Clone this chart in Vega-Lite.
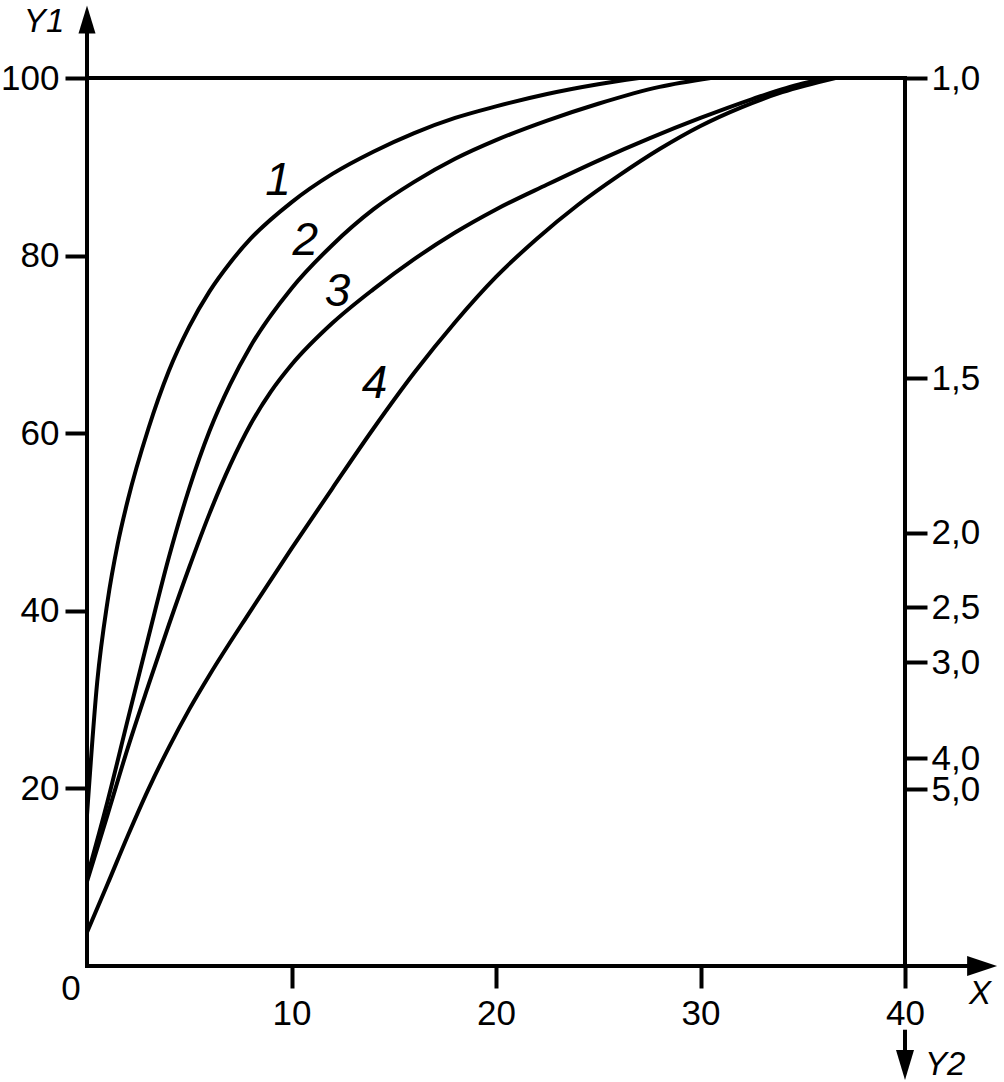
{
  "$schema": "https://vega.github.io/schema/vega-lite/v6.json",
  "width": 818,
  "height": 888,
  "autosize": {"type": "none"},
  "padding": {"left": 87, "top": 78, "right": 99, "bottom": 116},
  "background": "white",
  "config": {
    "view": {"stroke": null},
    "axis": {
      "domain": false,
      "grid": false,
      "tickColor": "black",
      "tickWidth": 4,
      "tickSize": 22,
      "labelFont": "Liberation Sans",
      "labelFontSize": 35,
      "labelColor": "black",
      "labelFlush": false,
      "labelOverlap": false
    }
  },
  "datasets": {
    "curves": [
      {"curve": "1", "x": 0, "y": 17},
      {"curve": "1", "x": 0.5, "y": 32},
      {"curve": "1", "x": 1, "y": 41},
      {"curve": "1", "x": 1.5, "y": 47.5},
      {"curve": "1", "x": 2, "y": 52.5},
      {"curve": "1", "x": 3, "y": 60.5},
      {"curve": "1", "x": 4, "y": 67},
      {"curve": "1", "x": 5, "y": 72},
      {"curve": "1", "x": 6, "y": 76},
      {"curve": "1", "x": 7, "y": 79.2},
      {"curve": "1", "x": 8, "y": 81.9},
      {"curve": "1", "x": 10, "y": 86},
      {"curve": "1", "x": 12, "y": 89.2},
      {"curve": "1", "x": 14, "y": 91.7},
      {"curve": "1", "x": 16, "y": 93.8},
      {"curve": "1", "x": 18, "y": 95.5},
      {"curve": "1", "x": 20, "y": 96.8},
      {"curve": "1", "x": 22.5, "y": 98.2},
      {"curve": "1", "x": 25, "y": 99.3},
      {"curve": "1", "x": 27, "y": 100},
      {"curve": "2", "x": 0, "y": 10},
      {"curve": "2", "x": 1, "y": 18.5},
      {"curve": "2", "x": 2, "y": 27.8},
      {"curve": "2", "x": 3, "y": 37},
      {"curve": "2", "x": 4, "y": 46},
      {"curve": "2", "x": 5, "y": 53.8},
      {"curve": "2", "x": 6, "y": 60.3},
      {"curve": "2", "x": 7, "y": 65.5},
      {"curve": "2", "x": 8, "y": 69.8},
      {"curve": "2", "x": 10, "y": 76.3},
      {"curve": "2", "x": 12, "y": 81.2},
      {"curve": "2", "x": 14, "y": 85.2},
      {"curve": "2", "x": 16, "y": 88.3},
      {"curve": "2", "x": 18, "y": 90.9},
      {"curve": "2", "x": 20, "y": 93},
      {"curve": "2", "x": 22.5, "y": 95.2},
      {"curve": "2", "x": 25, "y": 97.1},
      {"curve": "2", "x": 28, "y": 99},
      {"curve": "2", "x": 30.5, "y": 100},
      {"curve": "3", "x": 0, "y": 9.5},
      {"curve": "3", "x": 1, "y": 17},
      {"curve": "3", "x": 2, "y": 24.6},
      {"curve": "3", "x": 3, "y": 31.6},
      {"curve": "3", "x": 4, "y": 38.4},
      {"curve": "3", "x": 5, "y": 44.9},
      {"curve": "3", "x": 6, "y": 51},
      {"curve": "3", "x": 7, "y": 56.4},
      {"curve": "3", "x": 8, "y": 61},
      {"curve": "3", "x": 9, "y": 64.7},
      {"curve": "3", "x": 10, "y": 67.7},
      {"curve": "3", "x": 12, "y": 72.4},
      {"curve": "3", "x": 14, "y": 76.2},
      {"curve": "3", "x": 16, "y": 79.6},
      {"curve": "3", "x": 18, "y": 82.6},
      {"curve": "3", "x": 20, "y": 85.2},
      {"curve": "3", "x": 22.5, "y": 88},
      {"curve": "3", "x": 25, "y": 90.7},
      {"curve": "3", "x": 27.5, "y": 93.2},
      {"curve": "3", "x": 30, "y": 95.5},
      {"curve": "3", "x": 32.5, "y": 97.6},
      {"curve": "3", "x": 35, "y": 99.4},
      {"curve": "3", "x": 36.4, "y": 100},
      {"curve": "4", "x": 0, "y": 3.8},
      {"curve": "4", "x": 1, "y": 9.2},
      {"curve": "4", "x": 2, "y": 14.7},
      {"curve": "4", "x": 3, "y": 19.9},
      {"curve": "4", "x": 4, "y": 24.6},
      {"curve": "4", "x": 5, "y": 28.9},
      {"curve": "4", "x": 6, "y": 32.8},
      {"curve": "4", "x": 8, "y": 40},
      {"curve": "4", "x": 10, "y": 47},
      {"curve": "4", "x": 12, "y": 53.8},
      {"curve": "4", "x": 14, "y": 60.5},
      {"curve": "4", "x": 16, "y": 66.8},
      {"curve": "4", "x": 18, "y": 72.5},
      {"curve": "4", "x": 20, "y": 77.6},
      {"curve": "4", "x": 22, "y": 81.9},
      {"curve": "4", "x": 24, "y": 85.7},
      {"curve": "4", "x": 26, "y": 89},
      {"curve": "4", "x": 28, "y": 92},
      {"curve": "4", "x": 30, "y": 94.6},
      {"curve": "4", "x": 32, "y": 96.7},
      {"curve": "4", "x": 34, "y": 98.4},
      {"curve": "4", "x": 36.6, "y": 100}
    ],
    "frame": [
      {"part": "left axis", "x": 0, "y": 0, "x2": 0, "y2": 105},
      {"part": "bottom axis", "x": 0, "y": 0, "x2": 43.1, "y2": 0},
      {"part": "top line", "x": 0, "y": 100, "x2": 40, "y2": 100},
      {"part": "right axis", "x": 40, "y": 0, "x2": 40, "y2": 100},
      {"part": "Y2 shaft", "x": 40, "y": -7.4, "x2": 40, "y2": -9.8}
    ],
    "arrows": [
      {"dir": "up", "x": 0, "y": 106.6},
      {"dir": "right", "x": 43.77, "y": 0},
      {"dir": "down", "x": 40, "y": -11.15}
    ],
    "curveLabels": [
      {"label": "1", "x": 9.34, "y": 88.4},
      {"label": "2", "x": 10.68, "y": 81.7},
      {"label": "3", "x": 12.25, "y": 75.9},
      {"label": "4", "x": 14.06, "y": 65.5}
    ],
    "axisNames": [
      {"label": "Y1", "x": -2.1, "y": 106.3},
      {"label": "X", "x": 43.67, "y": -3.2},
      {"label": "Y2", "x": 41.96, "y": -11.1}
    ],
    "origin": [
      {"label": "0", "x": -0.78, "y": -2.6}
    ]
  },
  "resolve": {"axis": {"y": "independent"}},
  "layer": [
    {
      "data": {"name": "curves"},
      "mark": {"type": "line", "interpolate": "monotone", "stroke": "black", "strokeWidth": 4},
      "encoding": {
        "x": {"field": "x", "type": "quantitative", "scale": {"domain": [0, 40], "nice": false, "zero": false},
              "axis": {"values": [10, 20, 30, 40], "title": null, "labelPadding": 8}},
        "y": {"field": "y", "type": "quantitative", "scale": {"domain": [0, 100], "nice": false, "zero": false},
              "axis": {"values": [20, 40, 60, 80, 100], "title": null, "labelPadding": 6}},
        "detail": {"field": "curve", "type": "nominal"}
      }
    },
    {
      "data": {"name": "frame"},
      "mark": {"type": "rule", "color": "black", "strokeWidth": 4, "strokeCap": "square"},
      "encoding": {
        "x": {"field": "x", "type": "quantitative"},
        "x2": {"field": "x2"},
        "y": {"field": "y", "type": "quantitative",
              "axis": {"orient": "right", "title": null, "labelPadding": 4,
                       "values": [100, 66.2, 48.8, 40.4, 34.2, 23.4, 19.9],
                       "labelExpr": "datum.value == 100 ? '1,0' : datum.value == 66.2 ? '1,5' : datum.value == 48.8 ? '2,0' : datum.value == 40.4 ? '2,5' : datum.value == 34.2 ? '3,0' : datum.value == 23.4 ? '4,0' : '5,0'"}},
        "y2": {"field": "y2"}
      }
    },
    {
      "data": {"name": "arrows"},
      "mark": {"type": "point", "filled": true, "opacity": 1, "color": "black", "size": 900},
      "encoding": {
        "x": {"field": "x", "type": "quantitative"},
        "y": {"field": "y", "type": "quantitative", "axis": null},
        "shape": {"field": "dir", "type": "nominal", "legend": null,
                  "scale": {"domain": ["up", "right", "down"],
                            "range": ["M0,-0.933L0.567,0.933L-0.567,0.933Z", "M1,0L-1,-0.667L-1,0.667Z", "M0,1L0.6,-1L-0.6,-1Z"]}}
      }
    },
    {
      "data": {"name": "curveLabels"},
      "mark": {"type": "text", "font": "Liberation Sans", "fontSize": 46, "fontStyle": "italic", "color": "black", "align": "center", "baseline": "middle"},
      "encoding": {
        "x": {"field": "x", "type": "quantitative"},
        "y": {"field": "y", "type": "quantitative", "axis": null},
        "text": {"field": "label"}
      }
    },
    {
      "data": {"name": "axisNames"},
      "mark": {"type": "text", "font": "Liberation Sans", "fontSize": 33, "fontStyle": "italic", "color": "black", "align": "center", "baseline": "middle"},
      "encoding": {
        "x": {"field": "x", "type": "quantitative"},
        "y": {"field": "y", "type": "quantitative", "axis": null},
        "text": {"field": "label"}
      }
    },
    {
      "data": {"name": "origin"},
      "mark": {"type": "text", "font": "Liberation Sans", "fontSize": 35, "color": "black", "align": "center", "baseline": "middle"},
      "encoding": {
        "x": {"field": "x", "type": "quantitative"},
        "y": {"field": "y", "type": "quantitative", "axis": null},
        "text": {"field": "label"}
      }
    }
  ]
}
